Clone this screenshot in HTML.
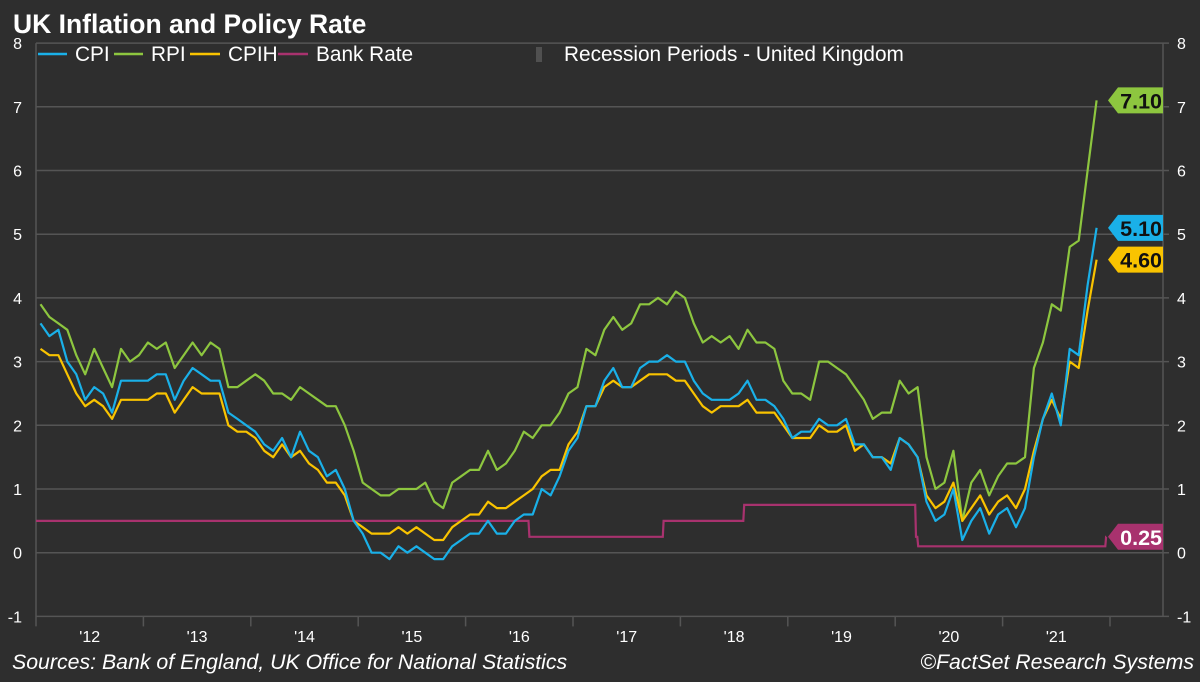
<!DOCTYPE html>
<html><head><meta charset="utf-8"><style>
body{margin:0;background:#2e2e2e;}
svg{display:block;font-family:"Liberation Sans",Arial,sans-serif;}
</style></head><body>
<svg id="chart" width="1200" height="682" viewBox="0 0 1200 682">
<rect x="0" y="0" width="1200" height="682" fill="#2e2e2e"/>
<text x="13" y="33" font-size="26.5" font-weight="bold" fill="#fff">UK Inflation and Policy Rate</text>
<g id="grid"></g>
<g id="axes"></g>
<g id="series"></g>
<g id="tags"></g>
<g font-size="20.8" fill="#fff">
 <g><line x1="38" y1="54" x2="67" y2="54" stroke="#1ab0e8" stroke-width="2.5"/><text x="75" y="61" fill="#fff">CPI</text></g>
 <g><line x1="114" y1="54" x2="143" y2="54" stroke="#8dc63f" stroke-width="2.5"/><text x="151" y="61" fill="#fff">RPI</text></g>
 <g><line x1="190" y1="54" x2="220" y2="54" stroke="#f9c300" stroke-width="2.5"/><text x="228" y="61" fill="#fff">CPIH</text></g>
 <g><line x1="278" y1="54" x2="308" y2="54" stroke="#a8326e" stroke-width="2.5"/><text x="316" y="61" fill="#fff">Bank Rate</text></g>
 <g><rect x="536" y="47" width="6" height="15" fill="#505050"/><text x="564" y="61" fill="#fff">Recession Periods - United Kingdom</text></g>
</g>
<text x="12" y="669" font-size="21.3" font-style="italic" fill="#fff">Sources: Bank of England, UK Office for National Statistics</text>
<text x="1194" y="669" font-size="21.3" font-style="italic" fill="#fff" text-anchor="end">©FactSet Research Systems</text>
</svg>
<script>
const yearLabels=["'12","'13","'14","'15","'16","'17","'18","'19","'20","'21"];
const yTicks=[-1,0,1,2,3,4,5,6,7,8];
const cpi=[3.6,3.4,3.5,3.0,2.8,2.4,2.6,2.5,2.2,2.7,2.7,2.7,
2.7,2.8,2.8,2.4,2.7,2.9,2.8,2.7,2.7,2.2,2.1,2.0,
1.9,1.7,1.6,1.8,1.5,1.9,1.6,1.5,1.2,1.3,1.0,0.5,
0.3,0.0,0.0,-0.1,0.1,0.0,0.1,0.0,-0.1,-0.1,0.1,0.2,
0.3,0.3,0.5,0.3,0.3,0.5,0.6,0.6,1.0,0.9,1.2,1.6,
1.8,2.3,2.3,2.7,2.9,2.6,2.6,2.9,3.0,3.0,3.1,3.0,
3.0,2.7,2.5,2.4,2.4,2.4,2.5,2.7,2.4,2.4,2.3,2.1,
1.8,1.9,1.9,2.1,2.0,2.0,2.1,1.7,1.7,1.5,1.5,1.3,
1.8,1.7,1.5,0.8,0.5,0.6,1.0,0.2,0.5,0.7,0.3,0.6,
0.7,0.4,0.7,1.5,2.1,2.5,2.0,3.2,3.1,4.2,5.1];
const rpi=[3.9,3.7,3.6,3.5,3.1,2.8,3.2,2.9,2.6,3.2,3.0,3.1,
3.3,3.2,3.3,2.9,3.1,3.3,3.1,3.3,3.2,2.6,2.6,2.7,
2.8,2.7,2.5,2.5,2.4,2.6,2.5,2.4,2.3,2.3,2.0,1.6,
1.1,1.0,0.9,0.9,1.0,1.0,1.0,1.1,0.8,0.7,1.1,1.2,
1.3,1.3,1.6,1.3,1.4,1.6,1.9,1.8,2.0,2.0,2.2,2.5,
2.6,3.2,3.1,3.5,3.7,3.5,3.6,3.9,3.9,4.0,3.9,4.1,
4.0,3.6,3.3,3.4,3.3,3.4,3.2,3.5,3.3,3.3,3.2,2.7,
2.5,2.5,2.4,3.0,3.0,2.9,2.8,2.6,2.4,2.1,2.2,2.2,
2.7,2.5,2.6,1.5,1.0,1.1,1.6,0.5,1.1,1.3,0.9,1.2,
1.4,1.4,1.5,2.9,3.3,3.9,3.8,4.8,4.9,6.0,7.1];
const cpih=[3.2,3.1,3.1,2.8,2.5,2.3,2.4,2.3,2.1,2.4,2.4,2.4,
2.4,2.5,2.5,2.2,2.4,2.6,2.5,2.5,2.5,2.0,1.9,1.9,
1.8,1.6,1.5,1.7,1.5,1.6,1.4,1.3,1.1,1.1,0.9,0.5,
0.4,0.3,0.3,0.3,0.4,0.3,0.4,0.3,0.2,0.2,0.4,0.5,
0.6,0.6,0.8,0.7,0.7,0.8,0.9,1.0,1.2,1.3,1.3,1.7,
1.9,2.3,2.3,2.6,2.7,2.6,2.6,2.7,2.8,2.8,2.8,2.7,
2.7,2.5,2.3,2.2,2.3,2.3,2.3,2.4,2.2,2.2,2.2,2.0,
1.8,1.8,1.8,2.0,1.9,1.9,2.0,1.6,1.7,1.5,1.5,1.4,
1.8,1.7,1.5,0.9,0.7,0.8,1.1,0.5,0.7,0.9,0.6,0.8,
0.9,0.7,1.0,1.6,2.1,2.4,2.1,3.0,2.9,3.8,4.6];
const bankDates=[2012.0,2016.59,2017.84,2018.59,2020.19,2020.21,2021.96];
const bankRates=[0.5,0.25,0.5,0.75,0.25,0.1,0.25];
const bankEnd=2021.96;

const X0=36,X1=1163,YW=107.4,Y0=552.7,YU=63.7;
const xs=t=>X0+(t-2012)*YW;
const ys=v=>Y0-v*YU;
const NS="http://www.w3.org/2000/svg";
function mk(tag,attrs,parent){const e=document.createElementNS(NS,tag);for(const k in attrs)e.setAttribute(k,attrs[k]);parent.appendChild(e);return e;}
const grid=document.getElementById('grid'),axes=document.getElementById('axes'),series=document.getElementById('series'),tags=document.getElementById('tags');

yTicks.forEach(v=>{
 const l=mk('line',{x1:X0,x2:X1+6,y1:ys(v),y2:ys(v),stroke:'#555','stroke-width':1.5},grid);
 
 
 const a=mk('text',{x:22,y:ys(v)+6,'font-size':16,fill:'#fff','text-anchor':'end'},axes);
 a.textContent=v;
 
 
 const b=mk('text',{x:1177,y:ys(v)+6,'font-size':16,fill:'#fff'},axes);
 b.textContent=v;
 
 
});
let ax=mk('line',{x1:X0,x2:X0,y1:ys(8),y2:ys(-1)+10,stroke:'#555','stroke-width':1.5},axes);


ax=mk('line',{x1:X1,x2:X1,y1:ys(8),y2:ys(-1),stroke:'#555','stroke-width':1.5},axes);


yearLabels.forEach((lab,i)=>{
 const tk=mk('line',{x1:xs(2012+i+1),x2:xs(2012+i+1),y1:ys(-1),y2:ys(-1)+10,stroke:'#555','stroke-width':1.5},axes);
 
 
 const t=mk('text',{x:xs(2012+i+0.5),y:642,'font-size':16,fill:'#fff','text-anchor':'middle'},axes);
 t.textContent=lab;
 
 
});

function monthly(arr,color,name){
 const pts=arr.map((v,i)=>xs(2012+(i+0.5)/12).toFixed(1)+','+ys(v).toFixed(1)).join(' ');
 const p=mk('polyline',{points:pts,fill:'none',stroke:color,'stroke-width':2.2,'stroke-linejoin':'round'},series);
 
 
}
let bp=[];
bankDates.forEach((d,i)=>{
 if(i>0)bp.push(xs(d-0.004).toFixed(1)+','+ys(bankRates[i-1]).toFixed(1));
 bp.push(xs(d+(i>0?0.004:0)).toFixed(1)+','+ys(bankRates[i]).toFixed(1));
});
bp.push(xs(bankEnd+0.005).toFixed(1)+','+ys(bankRates[bankRates.length-1]).toFixed(1));
const bl=mk('polyline',{points:bp.join(' '),fill:'none',stroke:'#a8326e','stroke-width':2.2},series);


monthly(rpi,'#8dc63f','rpi-line');
monthly(cpih,'#f9c300','cpih-line');
monthly(cpi,'#1ab0e8','cpi-line');

function tag(v,color,txtColor,name){
 const y=ys(v),x0=1110,x1=1163,h=13;
 const p=mk('polygon',{points:`${x0-2},${y} ${x0+8},${y-h} ${x1},${y-h} ${x1},${y+h} ${x0+8},${y+h}`,fill:color},tags);
 
 
 const t=mk('text',{x:x1-1,y:y+8,'font-size':21.5,'font-weight':'bold',fill:txtColor,'text-anchor':'end'},tags);
 t.textContent=v.toFixed(2);
 
 
}
tag(rpi[rpi.length-1],'#8dc63f','#111','rpi-last-value');
tag(cpi[cpi.length-1],'#1ab0e8','#111','cpi-last-value');
tag(cpih[cpih.length-1],'#f9c300','#111','cpih-last-value');
tag(bankRates[bankRates.length-1],'#a8326e','#fff','bank-rate-last-value');
</script>
</body></html>
